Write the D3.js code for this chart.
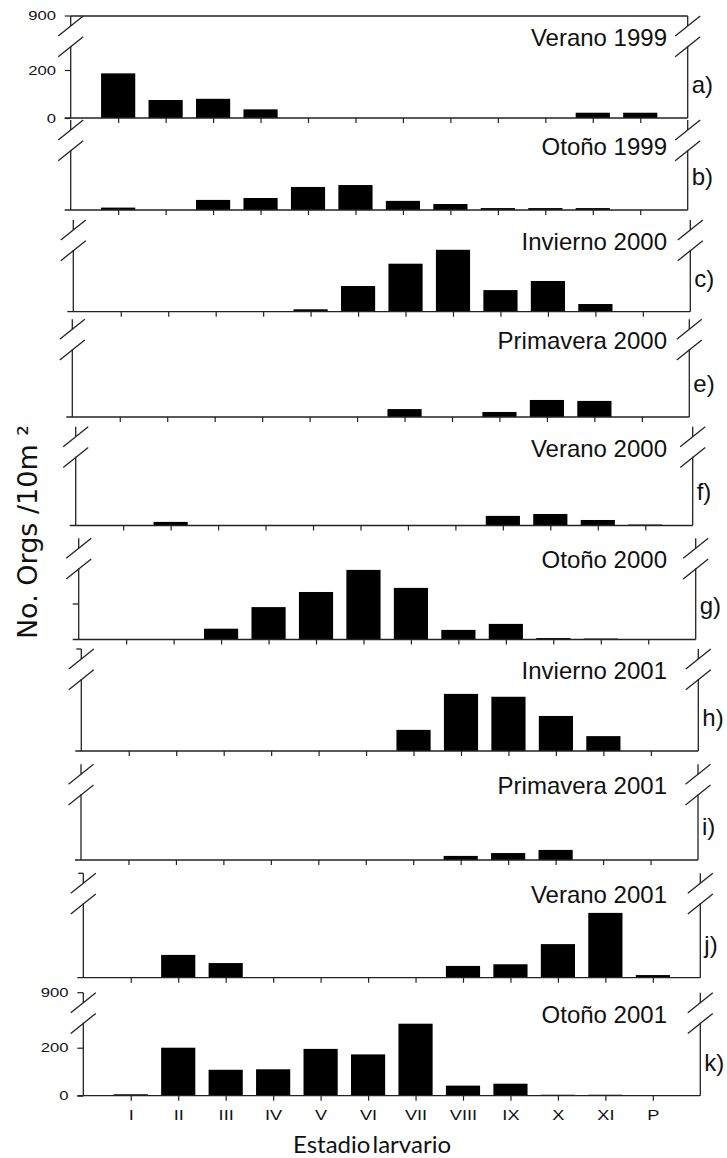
<!DOCTYPE html>
<html>
<head>
<meta charset="utf-8">
<script src="https://cdn.jsdelivr.net/npm/d3@7"></script>
<style>
  body { margin: 0; background: #fff; }
  svg { display: block; }
  .axis-line { stroke: #222; stroke-width: 1.3; fill: none; }
  .tick line { stroke: #222; stroke-width: 1.2; }
  .tick text { font-family: "Liberation Sans", Arial, sans-serif; font-size: 13px; fill: #111; }
  .x-ticks .tick text { font-size: 14px; }
  .title { font-family: "Liberation Sans", Arial, sans-serif; font-size: 24px; fill: #111; }
</style>
</head>
<body>
<svg id="chart" width="727" height="1158"></svg>
<script>
// Larval stages (x categories)
const stages = ['I', 'II', 'III', 'IV', 'V', 'VI', 'VII', 'VIII', 'IX', 'X', 'XI', 'P'];

const seasons = ['Verano 1999', 'Otoño 1999', 'Invierno 2000', 'Primavera 2000', 'Verano 2000',
  'Otoño 2000', 'Invierno 2001', 'Primavera 2001', 'Verano 2001', 'Otoño 2001'];
const panelTags = ['a)', 'b)', 'c)', 'e)', 'f)', 'g)', 'h)', 'i)', 'j)', 'k)'];

// No. Orgs / 10 m2 per stage
const verano1999    = [186, 75, 80, 36, 0, 0, 0, 0, 0, 0, 22, 22];
const otono1999     = [10, 0, 42, 50, 96, 104, 38, 25, 8, 8, 8, 0];
const invierno2000  = [0, 0, 0, 0, 10, 107, 200, 258, 90, 128, 32, 0];
const primavera2000 = [0, 0, 0, 0, 0, 0, 33, 0, 21, 71, 67, 0];
const verano2000    = [0, 15, 0, 0, 0, 0, 0, 0, 40, 48, 23, 4];
const otono2000     = [0, 0, 45, 135, 198, 290, 215, 40, 65, 6, 4, 0];
const invierno2001  = [0, 0, 0, 0, 0, 0, 88, 238, 226, 146, 62, 0];
const primavera2001 = [0, 0, 0, 0, 0, 0, 0, 17, 29, 42, 0, 0];
const verano2001    = [0, 95, 61, 0, 0, 0, 0, 49, 56, 140, 270, 11];
const otono2001     = [6, 200, 108, 110, 195, 172, 300, 42, 50, 4, 4, 0];

const seriesList = [verano1999, otono1999, invierno2000, primavera2000, verano2000,
  otono2000, invierno2001, primavera2001, verano2001, otono2001];

// y ticks shown on first and last panel
const yTicks = [0, 200];
const yTopLabel = '900';

// panel geometry (the original panels drift a little to the right going down)
const panelLeft  = [70.7, 70.7, 73.3, 72.3, 75.7, 78.7, 81.3, 81, 83.3, 83.3];
const panelBase  = [118, 210, 311.7, 417, 525.5, 639.5, 751, 860, 977.7, 1095.7];
const panelBreak = [16, 120, 220, 319.3, 426.7, 538.3, 649, 764.3, 873.3, 992.7];
const panelWidth = 617;

const svg = d3.select('#chart');

// draw a break mark pair centred on an axis at x, starting at y0
function drawBreak(g, x, y0) {
  [0, 20.7].forEach(off => {
    g.append('line')
      .attr('class', 'axis-line')
      .attr('stroke-width', 1.1)
      .attr('x1', x - 12.5).attr('y1', y0 + off + 20)
      .attr('x2', x + 12.5).attr('y2', y0 + off);
  });
}

function vline(g, x, y1, y2) {
  g.append('line').attr('class', 'axis-line')
    .attr('x1', x).attr('x2', x).attr('y1', y1).attr('y2', y2);
}

seriesList.forEach((values, p) => {
  const left = panelLeft[p];
  const right = left + panelWidth;
  const base = panelBase[p];
  const brk = panelBreak[p];
  const first = p === 0;
  const last = p === seriesList.length - 1;

  const g = svg.append('g');

  const x = d3.scaleBand()
    .domain(stages)
    .range([left, right])
    .paddingInner(0.28)
    .paddingOuter(0.64);

  const y = d3.scaleLinear()
    .domain([0, 200])
    .range([base, base - 48]);

  // bars
  g.append('g')
    .selectAll('rect')
    .data(values)
    .join('rect')
    .attr('x', (d, i) => x(stages[i]))
    .attr('width', x.bandwidth())
    .attr('y', d => y(d))
    .attr('height', d => y(0) - y(d))
    .attr('fill', '#000');

  // broken left and right axes
  [left, right].forEach(ax => {
    vline(g, ax, brk, brk + 10);
    vline(g, ax, brk + 30, base);
    drawBreak(g, ax, brk);
  });

  // baseline (with a small 0 tick sticking out on the left)
  g.append('line').attr('class', 'axis-line')
    .attr('x1', left - 6).attr('x2', right)
    .attr('y1', base).attr('y2', base);

  if (first) {
    g.append('line').attr('class', 'axis-line')
      .attr('stroke', '#555')
      .attr('x1', left).attr('x2', right)
      .attr('y1', brk).attr('y2', brk);
  }

  // x ticks
  const xAxis = d3.axisBottom(d3.scalePoint().domain(stages).range([x(stages[0]) + x.bandwidth() / 2, x(stages[11]) + x.bandwidth() / 2]))
    .tickSize(5)
    .tickSizeOuter(0)
    .tickPadding(9)
    .tickFormat(last ? (d => d) : () => '');
  const xg = g.append('g')
    .attr('class', 'x-ticks')
    .attr('transform', `translate(0,${base})`)
    .call(xAxis);
  xg.select('.domain').remove();
  xg.selectAll('text').attr('transform', 'scale(1.3,1)');

  // y ticks for first and last panel
  if (first || last) {
    const yg = g.append('g')
      .attr('transform', `translate(${left},0)`)
      .call(d3.axisLeft(y).tickValues(yTicks).tickSize(6).tickPadding(5.5));
    yg.select('.domain').remove();
    yg.selectAll('text').attr('transform', 'scale(1.28,1)');

    const top = yg.append('g').attr('class', 'tick').attr('transform', `translate(0,${brk})`);
    top.append('line').attr('x2', -6);
    top.append('text')
      .attr('x', -11.5).attr('dy', '0.32em')
      .attr('text-anchor', 'end')
      .attr('transform', 'scale(1.28,1)')
      .text(yTopLabel);
  }

  // small ticks seen on some of the unlabeled axes
  if (p === 6 || p === 8) {
    g.append('line').attr('class', 'axis-line')
      .attr('x1', left - 5).attr('x2', left).attr('y1', brk).attr('y2', brk);
  }
  if (p === 5) {
    g.append('line').attr('class', 'axis-line')
      .attr('x1', left - 6).attr('x2', left).attr('y1', y(148)).attr('y2', y(148));
  }

  // season title and panel tag
  g.append('text')
    .attr('class', 'title')
    .attr('x', 667)
    .attr('y', brk + (p === 1 ? 35 : 30))
    .attr('text-anchor', 'end')
    .text(seasons[p]);

  g.append('text')
    .attr('class', 'title')
    .attr('x', right + 4)
    .attr('y', base - 33.5)
    .attr('dy', '0.35em')
    .text(panelTags[p]);
});

// axis titles
svg.append('text')
  .attr('transform', 'translate(37,532) rotate(-90)')
  .attr('text-anchor', 'middle')
  .style('font-family', '"DejaVu Sans", sans-serif')
  .style('font-size', '27px')
  .attr('fill', '#111')
  .text('No. Orgs /10m ²');

svg.append('text')
  .attr('x', 372)
  .attr('y', 1153)
  .attr('text-anchor', 'middle')
  .style('font-family', 'Lato, "Open Sans", sans-serif')
  .style('font-size', '24px')
  .style('word-spacing', '-4px')
  .attr('fill', '#111')
  .text('Estadio larvario');
</script>
</body>
</html>
